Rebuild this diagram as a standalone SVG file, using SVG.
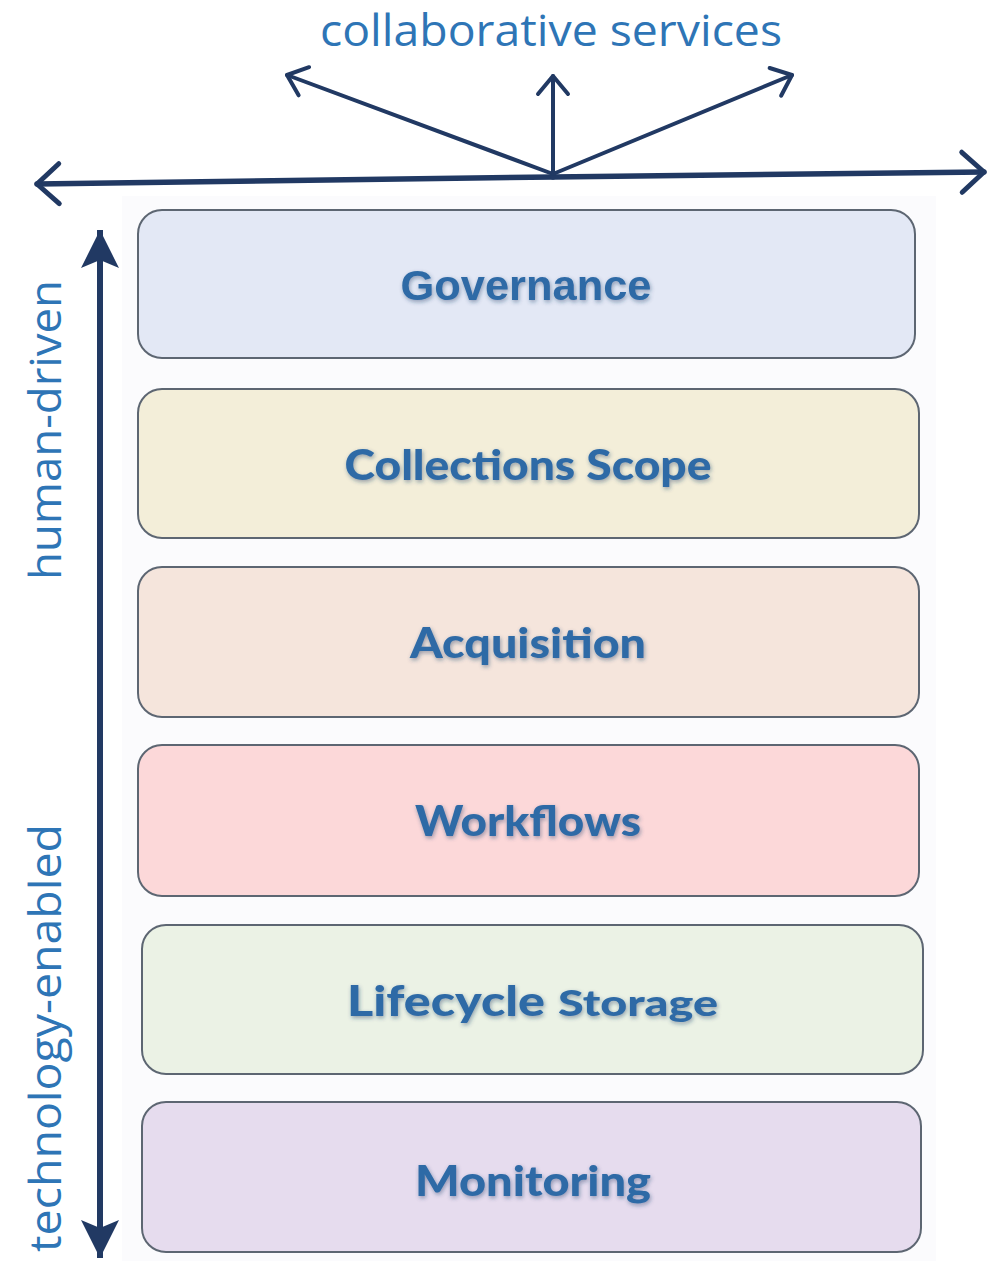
<svg xmlns="http://www.w3.org/2000/svg" width="1003" height="1261" viewBox="0 0 1003 1261">
  <style>
    .axis { fill: none; stroke: #213963; stroke-linecap: round; stroke-linejoin: round; }
    .label { font-family: "Open Sans", "Liberation Sans", sans-serif; font-size: 43px; fill: #2e75b6; }
    .layer rect { stroke: #5d6672; stroke-width: 2; }
    .layer text { font-family: Lato, "Liberation Sans", sans-serif; font-weight: 900; font-size: 42px; fill: #2f6aa6; text-anchor: middle; filter: url(#soft); }
  </style>
  <defs>
    <filter id="soft" x="-10%" y="-30%" width="120%" height="160%">
      <feGaussianBlur in="SourceAlpha" stdDeviation="2"/>
      <feOffset dx="1" dy="2" result="b"/>
      <feFlood flood-color="#1c3b66" flood-opacity="0.45"/>
      <feComposite in2="b" operator="in" result="s"/>
      <feMerge><feMergeNode in="s"/><feMergeNode in="SourceGraphic"/></feMerge>
    </filter>
    <!-- open chevron heads, sized in user units -->
    <marker id="chevL" viewBox="-26 -24 30 48" refX="0" refY="0" markerWidth="30" markerHeight="48" orient="auto" markerUnits="userSpaceOnUse">
      <path d="M-22 -20 L0 0 L-22 20" fill="none" stroke="#213963" stroke-width="5" stroke-linecap="round" stroke-linejoin="round"/>
    </marker>
    <marker id="chevS" viewBox="-24 -20 28 40" refX="0" refY="0" markerWidth="28" markerHeight="40" orient="auto" markerUnits="userSpaceOnUse">
      <path d="M-18 -15 L0 0 L-18 15" fill="none" stroke="#213963" stroke-width="4" stroke-linecap="round" stroke-linejoin="round"/>
    </marker>
    <marker id="tri" viewBox="-40 -20 42 40" refX="0" refY="0" markerWidth="42" markerHeight="40" orient="auto-start-reverse" markerUnits="userSpaceOnUse">
      <path d="M0 0 L-38 -19 L-30 0 L-38 19 Z" fill="#213963"/>
    </marker>
  </defs>

  <rect width="1003" height="1261" fill="#ffffff"/>
  <rect x="122" y="196" width="814" height="1065" fill="#fbfbfd"/>

  <!-- axis labels -->
  <text class="label" x="551" y="46" text-anchor="middle" textLength="462" lengthAdjust="spacingAndGlyphs">collaborative services</text>
  <text class="label" transform="translate(61,430) rotate(-90)" text-anchor="middle" textLength="300" lengthAdjust="spacingAndGlyphs">human-driven</text>
  <text class="label" transform="translate(61,1038) rotate(-90)" text-anchor="middle" textLength="428" lengthAdjust="spacingAndGlyphs">technology-enabled</text>

  <!-- connectors -->
  <g id="connectors">
    <line class="axis" x1="553" y1="177" x2="37" y2="184" style="stroke-width:5.5" marker-end="url(#chevL)"/>
    <line class="axis" x1="553" y1="177" x2="984" y2="172" style="stroke-width:5.5" marker-end="url(#chevL)"/>
    <line class="axis" x1="553" y1="174" x2="287" y2="75" style="stroke-width:4" marker-end="url(#chevS)"/>
    <line class="axis" x1="553" y1="174" x2="553" y2="76" style="stroke-width:4" marker-end="url(#chevS)"/>
    <line class="axis" x1="553" y1="174" x2="792" y2="75" style="stroke-width:4" marker-end="url(#chevS)"/>
    <line class="axis" x1="100" y1="1258" x2="100" y2="230" style="stroke-width:6;stroke-linecap:butt" marker-start="url(#tri)" marker-end="url(#tri)"/>
  </g>

  <!-- layers -->
  <g id="governance" class="layer">
    <rect x="138" y="210" width="777" height="148" rx="24" fill="#e3e8f5"/>
    <text x="526" y="300" style="font-family:'Liberation Sans', Arial, sans-serif; font-weight:bold" textLength="251" lengthAdjust="spacingAndGlyphs">Governance</text>
  </g>
  <g id="collections-scope" class="layer">
    <rect x="138" y="389" width="781" height="149" rx="24" fill="#f3eed9"/>
    <text x="528" y="480" textLength="367" lengthAdjust="spacingAndGlyphs">Collections Scope</text>
  </g>
  <g id="acquisition" class="layer">
    <rect x="138" y="567" width="781" height="150" rx="24" fill="#f5e5dc"/>
    <text x="528" y="658" textLength="236" lengthAdjust="spacingAndGlyphs">Acquisition</text>
  </g>
  <g id="workflows" class="layer">
    <rect x="138" y="745" width="781" height="151" rx="24" fill="#fcd8d9"/>
    <text x="528" y="836" textLength="226" lengthAdjust="spacingAndGlyphs">Workflows</text>
  </g>
  <g id="lifecycle-storage" class="layer">
    <rect x="142" y="925" width="781" height="149" rx="24" fill="#ebf2e5"/>
    <text x="446" y="1016" textLength="198" lengthAdjust="spacingAndGlyphs">Lifecycle</text>
    <text x="638" y="1016" style="font-size:36px" textLength="160" lengthAdjust="spacingAndGlyphs">Storage</text>
  </g>
  <g id="monitoring" class="layer">
    <rect x="142" y="1102" width="779" height="150" rx="24" fill="#e6dcee"/>
    <text x="533" y="1196" textLength="236" lengthAdjust="spacingAndGlyphs">Monitoring</text>
  </g>
</svg>
